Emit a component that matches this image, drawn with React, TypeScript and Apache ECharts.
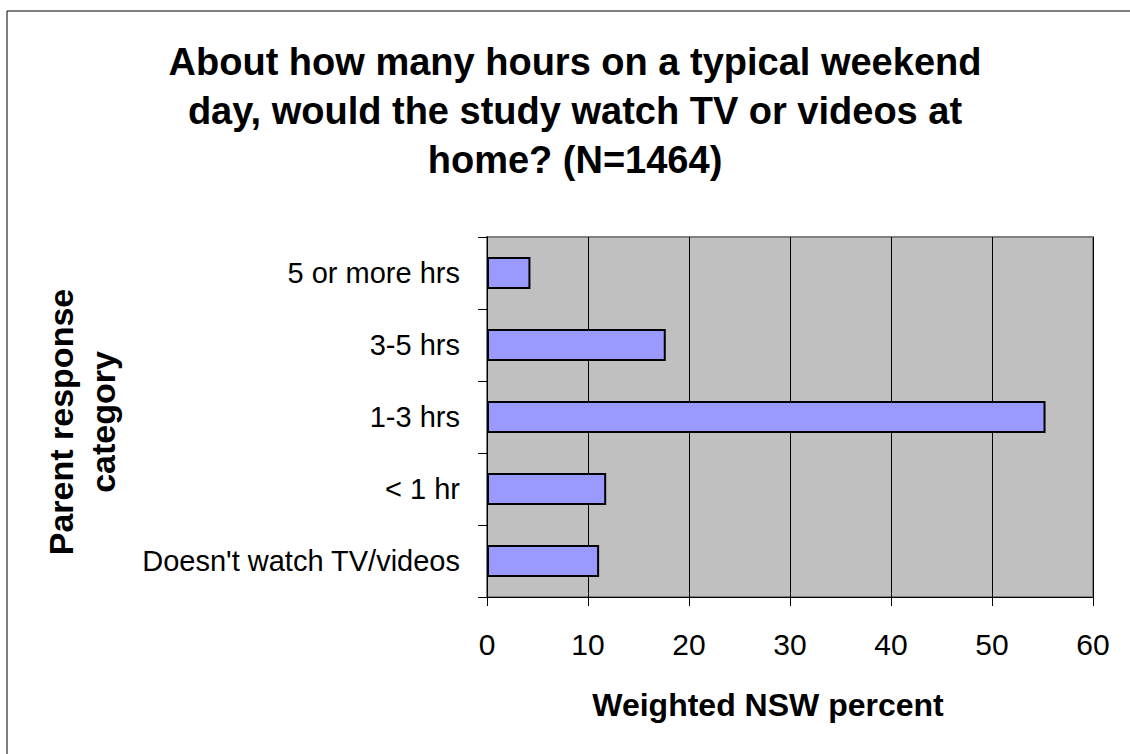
import React, { useEffect, useRef } from "react";
import * as echarts from "echarts";

const categories = ["5 or more hrs", "3-5 hrs", "1-3 hrs", "< 1 hr", "Doesn't watch TV/videos"];
const values = [4.3, 17.7, 55.3, 11.8, 11.1];
const xTicks = { min: 0, max: 60, interval: 10 };
const titleText = "About how many hours on a typical weekend\nday, would the study watch TV or videos at\nhome? (N=1464)";
const xTitle = "Weighted NSW percent";
const yTitle = "Parent response\ncategory";

const FONT = '"Liberation Sans", Arial, sans-serif';

export default function App() {
  const ref = useRef<HTMLDivElement>(null);
  useEffect(() => {
    if (!ref.current) return;
    const chart = echarts.init(ref.current, null, { renderer: "svg" });
    chart.setOption({
      animation: false,
      backgroundColor: "#ffffff",
      grid: {
        left: 487,
        top: 237,
        right: 37,
        bottom: 157,
        show: true,
        backgroundColor: "#C0C0C0",
        borderColor: "#808080",
        borderWidth: 2,
      },
      xAxis: {
        type: "value",
        min: xTicks.min,
        max: xTicks.max,
        interval: xTicks.interval,
        axisLine: { show: true, lineStyle: { color: "#000", width: 1 } },
        axisTick: { show: true, length: 9, lineStyle: { color: "#000" } },
        splitLine: { show: true, lineStyle: { color: "#000", width: 1 } },
        axisLabel: { color: "#000", fontSize: 30, fontFamily: FONT, margin: 32 },
      },
      yAxis: {
        type: "category",
        data: categories,
        inverse: true,
        axisLine: { show: true, lineStyle: { color: "#000", width: 1 } },
        axisTick: { show: true, length: 9, lineStyle: { color: "#000" } },
        axisLabel: { color: "#000", fontSize: 29, fontFamily: FONT, margin: 27 },
        splitLine: { show: false },
      },
      series: [
        {
          type: "bar",
          data: values,
          barWidth: 32,
          itemStyle: { color: "#9999FF", borderColor: "#000", borderWidth: 2 },
        },
      ],
      graphic: [
        {
          type: "rect",
          shape: { x: 7, y: 11, width: 3000, height: 3000 },
          style: { fill: "none", stroke: "#000", lineWidth: 1 },
          silent: true,
        },
        {
          type: "text",
          x: 575,
          y: 37,
          style: {
            text: titleText,
            font: `bold 38px ${FONT}`,
            fill: "#000",
            align: "center",
            verticalAlign: "top",
            lineHeight: 49,
          },
        },
        {
          type: "text",
          x: 768,
          y: 705,
          style: {
            text: xTitle,
            font: `bold 32px ${FONT}`,
            fill: "#000",
            align: "center",
            verticalAlign: "middle",
          },
        },
        {
          type: "text",
          x: 82,
          y: 422,
          rotation: Math.PI / 2,
          style: {
            text: yTitle,
            font: `bold 34px ${FONT}`,
            fill: "#000",
            align: "center",
            verticalAlign: "middle",
            lineHeight: 42,
          },
        },
      ],
    });
    return () => chart.dispose();
  }, []);
  return (
    <div
      ref={ref}
      style={{ position: "fixed", left: 0, top: 0, width: 1130, height: 754 }}
    />
  );
}
